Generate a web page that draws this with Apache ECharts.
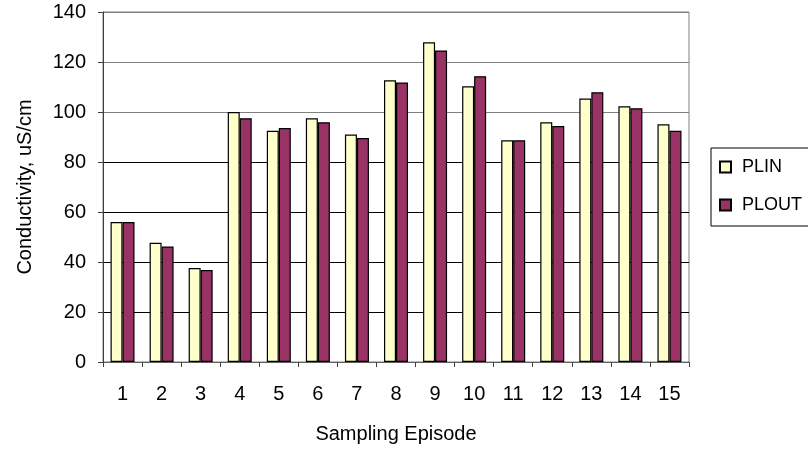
<!DOCTYPE html>
<html><head><meta charset="utf-8">
<script src="https://cdn.jsdelivr.net/npm/echarts@6/dist/echarts.min.js"></script>
<style>html,body{margin:0;padding:0;background:#fff}#c{width:808px;height:450px}</style>
</head><body><div id="c"></div>
<script>
const categories = ['1','2','3','4','5','6','7','8','9','10','11','12','13','14','15'];
const plin  = [56, 47.7, 37.6, 100, 92.5, 97.5, 91, 112.7, 127.9, 110.3, 88.7, 95.9, 105.4, 102.3, 95.1];
const plout = [56, 46.2, 36.8, 97.5, 93.6, 95.9, 89.6, 111.8, 124.6, 114.3, 88.7, 94.4, 107.9, 101.5, 92.5];
const yTicks = [0, 20, 40, 60, 80, 100, 120, 140];

const chart = echarts.init(document.getElementById('c'), null, {renderer:'canvas'});
const font = 'Liberation Sans, Arial, sans-serif';
chart.setOption({
  animation:false,
  backgroundColor:'#fff',
  grid:{left:103, right:119, top:12, bottom:88, show:true, borderColor:'#808080', borderWidth:1},
  legend:{
    orient:'vertical', left:711, top:148,
    padding:[10,12,12,8], itemGap:20,
    borderColor:'#000', borderWidth:1, backgroundColor:'#fff',
    itemWidth:11, itemHeight:11,
    textStyle:{fontFamily:font, fontSize:18, color:'#000', padding:[0,0,0,6]},
    icon:'rect',
    data:['PLIN','PLOUT']
  },
  xAxis:{
    type:'category', data:categories,
    name:'Sampling Episode', nameLocation:'middle', nameGap:62,
    nameTextStyle:{fontFamily:font, fontSize:20, color:'#000'},
    axisLine:{lineStyle:{color:'#606060'}},
    axisTick:{show:true, length:5, lineStyle:{color:'#404040'}},
    axisLabel:{fontFamily:font, fontSize:20, color:'#000', margin:22}
  },
  yAxis:{
    type:'value', min:0, max:140, interval:20,
    name:'Conductivity, uS/cm', nameLocation:'middle', nameGap:68, nameRotate:90,
    nameTextStyle:{fontFamily:font, fontSize:20, color:'#000'},
    axisLine:{show:true, lineStyle:{color:'#404040'}},
    axisTick:{show:true, length:5, lineStyle:{color:'#404040'}},
    axisLabel:{fontFamily:font, fontSize:20, color:'#000', margin:17,
      formatter:v => yTicks.includes(v) ? String(v) : ''},
    splitLine:{show:true, lineStyle:{color:['#000','#000','#000','#000','#000','#808080','#808080','#808080'], width:1}}
  },
  series:[
    {name:'PLIN', type:'bar', data:plin, barWidth:12, barGap:'0%',
     itemStyle:{color:'#FFFFCC', borderColor:'#000', borderWidth:1.2}},
    {name:'PLOUT', type:'bar', data:plout, barWidth:12, barGap:'0%',
     itemStyle:{color:'#993366', borderColor:'#000', borderWidth:1.2}}
  ]
});
</script></body></html>
